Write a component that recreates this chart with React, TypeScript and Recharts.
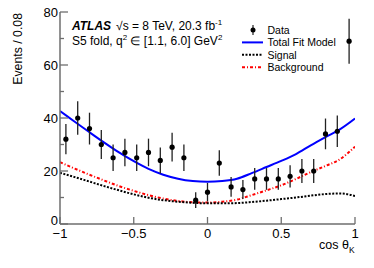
import React from 'react';
import { ComposedChart, Line, Scatter, ErrorBar, XAxis, YAxis } from 'recharts';

// Data (bin centres of cos theta_K, width 0.08)
const binCenters = [-0.96, -0.88, -0.8, -0.72, -0.64, -0.56, -0.48, -0.4, -0.32, -0.24, -0.16, -0.08, 0, 0.08, 0.16, 0.24, 0.32, 0.4, 0.48, 0.56, 0.64, 0.72, 0.8, 0.88, 0.96];
const counts = [32, 40, 36, 30, 25, 27, 25, 27, 24, 29, 25, 9, 12, 23, 14, 13, 17, 17, 17, 18, 20, 20, 34, 35, 69];
const countErrors = [5.7, 6.3, 6.0, 5.5, 5.0, 5.2, 5.0, 5.2, 4.9, 5.4, 5.0, 3.0, 3.5, 4.8, 3.7, 3.6, 4.1, 4.1, 4.1, 4.2, 4.5, 4.5, 5.8, 5.9, 8.5];

// Fit curves sampled along cos theta_K
const curveX = [-1, -0.9, -0.8, -0.7, -0.6, -0.5, -0.4, -0.3, -0.2, -0.1, 0, 0.1, 0.2, 0.3, 0.4, 0.5, 0.6, 0.7, 0.8, 0.9, 1];
const totalFit = [42.6, 38.6, 34.6, 30.7, 27.0, 23.7, 20.8, 18.6, 17.1, 16.2, 15.9, 16.2, 17.1, 19.2, 21.5, 23.8, 26.4, 29.7, 32.8, 35.8, 39.8];
const signalFit = [19.3, 17.7, 16.0, 14.3, 12.7, 11.2, 9.9, 9.0, 8.4, 8.0, 7.8, 7.8, 7.9, 8.3, 8.8, 9.4, 10.0, 10.7, 11.3, 11.5, 10.6];
const backgroundFit = [23.3, 20.9, 18.6, 16.4, 14.3, 12.5, 10.9, 9.6, 8.7, 8.2, 8.1, 8.4, 9.2, 10.9, 12.7, 14.6, 17.0, 19.6, 21.9, 24.5, 29.2];

// Axis ticks
const xTicks = [-1, -0.5, 0, 0.5, 1];
const yTicks = [0, 10, 20, 30, 40, 50, 60, 70, 80];
const yMajor = [0, 20, 40, 60, 80];

const legendItems = ['Data', 'Total Fit Model', 'Signal', 'Background'];

const pointsData = binCenters.map((x, i) => ({ x, y: counts[i], err: countErrors[i] }));
const curveData = curveX.map((x, i) => ({ x, total: totalFit[i], signal: signalFit[i], background: backgroundFit[i] }));

const FONT = '"Liberation Sans", Arial, Helvetica, sans-serif';
const FRAME = '#6e6e6e';
const TM = 4;

const fmt = (v: number) => (v < 0 ? '\u2212' + String(Math.abs(v)) : String(v));

const YTick = (props: any) => {
  const { x, y, payload, side } = props;
  const v = payload.value;
  const major = yMajor.includes(v);
  const len = major ? 8 : 4;
  if (side === 'left') {
    const ax = x + TM;
    return (
      <g>
        <line x1={ax} x2={ax + len} y1={y} y2={y} stroke={FRAME} strokeWidth={1.3} />
        {major && (
          <text x={ax - 2} y={v === 0 ? y - 4 : y} textAnchor="end" dominantBaseline="central" fontFamily={FONT} fontSize={13} fill="#000">
            {fmt(v)}
          </text>
        )}
      </g>
    );
  }
  const ax = x - TM;
  return <line x1={ax} x2={ax - len} y1={y} y2={y} stroke={FRAME} strokeWidth={1.3} />;
};

const XTick = (props: any) => {
  const { x, y, payload, side } = props;
  const v = payload.value;
  if (side === 'bottom') {
    const ay = y - TM;
    return (
      <g>
        <line x1={x} x2={x} y1={ay} y2={ay - 7} stroke={FRAME} strokeWidth={1.3} />
        <text x={x} y={ay + 14} textAnchor="middle" fontFamily={FONT} fontSize={13} fill="#000">
          {fmt(v)}
        </text>
      </g>
    );
  }
  const ay = y + TM;
  return <line x1={x} x2={x} y1={ay} y2={ay + 7} stroke={FRAME} strokeWidth={1.3} />;
};

const LegendIcon = ({ name, x, y }: { name: string; x: number; y: number }) => {
  if (name === 'Data') {
    return (
      <g>
        <line x1={x + 21} x2={x + 21} y1={y - 5} y2={y + 5} stroke="#222" strokeWidth={1.2} />
        <circle cx={x + 21} cy={y} r={2.5} fill="#000" />
      </g>
    );
  }
  const stroke = name === 'Total Fit Model' ? '#0000ff' : name === 'Signal' ? '#000' : '#ff0000';
  const dash = name === 'Total Fit Model' ? undefined : name === 'Signal' ? '2 1.5' : '3 2 1 2';
  return <line x1={x + 10} x2={x + 31} y1={y} y2={y} stroke={stroke} strokeWidth={2} strokeDasharray={dash} />;
};

const Dot = (props: any) => {
  const { cx, cy } = props;
  return <circle cx={cx} cy={cy} r={2.6} fill="#000" />;
};

const LEG_X = 232;
const LEG_Y = 30;
const LEG_STEP = 12.4;

export default function App() {
  return (
    <div style={{ position: 'absolute', left: 0, top: 0, width: 374, height: 268, background: '#fff' }}>
      <ComposedChart width={374} height={268} margin={{ top: 12, right: 19, bottom: 0, left: 0 }}>
        <XAxis
          xAxisId={0}
          dataKey="x"
          type="number"
          domain={[-1, 1]}
          ticks={xTicks}
          height={44}
          tickSize={0}
          tickMargin={TM}
          tickLine={false}
          stroke={FRAME}
          strokeWidth={1.5}
          allowDataOverflow
          tick={<XTick side="bottom" />}
        />
        <XAxis
          xAxisId="top"
          orientation="top"
          dataKey="x"
          type="number"
          domain={[-1, 1]}
          ticks={xTicks}
          height={0}
          tickSize={0}
          tickMargin={TM}
          tickLine={false}
          stroke={FRAME}
          strokeWidth={1.5}
          allowDataOverflow
          tick={<XTick side="top" />}
        />
        <YAxis
          yAxisId={0}
          dataKey="y"
          type="number"
          domain={[0, 80]}
          ticks={yTicks}
          width={60}
          tickSize={0}
          tickMargin={TM}
          tickLine={false}
          stroke={FRAME}
          strokeWidth={1.5}
          allowDataOverflow
          interval={0}
          tick={<YTick side="left" />}
        />
        <YAxis
          yAxisId="right"
          orientation="right"
          type="number"
          domain={[0, 80]}
          ticks={yTicks}
          width={0}
          tickSize={0}
          tickMargin={TM}
          tickLine={false}
          stroke={FRAME}
          strokeWidth={1.5}
          allowDataOverflow
          interval={0}
          tick={<YTick side="right" />}
        />
        <Line data={curveData} dataKey="background" type="monotone" stroke="#ff0000" strokeWidth={2} strokeDasharray="3 2 1 2" dot={false} isAnimationActive={false} />
        <Line data={curveData} dataKey="signal" type="monotone" stroke="#000" strokeWidth={2} strokeDasharray="2 1.5" dot={false} isAnimationActive={false} />
        <Line data={curveData} dataKey="total" type="monotone" stroke="#0000ff" strokeWidth={2} dot={false} isAnimationActive={false} />
        <Scatter data={pointsData} dataKey="y" fill="#000" shape={<Dot />} isAnimationActive={false}>
          <ErrorBar dataKey="err" direction="y" width={0} stroke="#222" strokeWidth={1.3} />
        </Scatter>
      </ComposedChart>
      <svg width={374} height={268} style={{ position: 'absolute', left: 0, top: 0, pointerEvents: 'none' }}>
        <text x={72} y={30} fontFamily={FONT} fontSize={12} fill="#000">
          <tspan fontWeight="bold" fontStyle="italic">ATLAS</tspan>
          <tspan dx={5}>{'\u221As = 8 TeV, 20.3 fb'}</tspan>
          <tspan dy={-5} fontSize={8}>-1</tspan>
        </text>
        <text x={72} y={45} fontFamily={FONT} fontSize={12} fill="#000">
          <tspan>S5 fold, q</tspan>
          <tspan dy={-5} fontSize={8}>2</tspan>
          <tspan dy={5}>{' \u2208 [1.1, 6.0] GeV'}</tspan>
          <tspan dy={-5} fontSize={8}>2</tspan>
        </text>
        {legendItems.map((name, i) => (
          <g key={name}>
            <LegendIcon name={name} x={LEG_X} y={LEG_Y + i * LEG_STEP} />
            <text x={LEG_X + 35.5} y={LEG_Y + i * LEG_STEP} dominantBaseline="central" fontFamily={FONT} fontSize={10.5} fill="#000">
              {name}
            </text>
          </g>
        ))}
        <text transform="translate(22,13) rotate(-90)" textAnchor="end" fontFamily={FONT} fontSize={12.3} fill="#000">
          Events / 0.08
        </text>
        <text x={349} y={249} textAnchor="end" fontFamily={FONT} fontSize={12.5} fill="#000">
          {'cos \u03B8'}
        </text>
        <text x={349} y={253} fontFamily={FONT} fontSize={8.5} fill="#000">
          K
        </text>
      </svg>
    </div>
  );
}
